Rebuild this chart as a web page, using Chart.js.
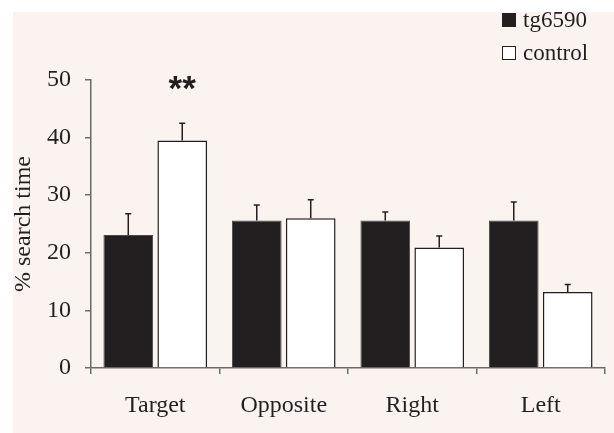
<!DOCTYPE html>
<html>
<head>
<meta charset="utf-8">
<script src="https://cdn.jsdelivr.net/npm/chart.js@4/dist/chart.umd.min.js"></script>
<style>
  html, body { margin: 0; padding: 0; background: #ffffff; }
  #wrap { position: relative; width: 614px; height: 433px; }
</style>
</head>
<body>
<div id="wrap"><canvas id="c" width="614" height="433"></canvas></div>
<script>
// Categories of the probe-trial quadrants
const categories = ['Target', 'Opposite', 'Right', 'Left'];

// Mean % search time per quadrant and its standard error
const tg6590Values = [23.1, 25.6, 25.6, 25.6];
const tg6590Errors = [3.7, 2.7, 1.5, 3.2];
const controlValues = [39.5, 26.0, 20.9, 13.2];
const controlErrors = [3.0, 3.2, 2.0, 1.3];

// Y axis tick values
const yTicks = [0, 10, 20, 30, 40, 50];

// Significance markers: category, dataset index, label
const sigMarks = [{ category: 'Target', dataset: 1, text: '**' }];

const INK = '#231f20';
const AXIS = '#6b6b6b';
const PANEL = '#fbf3f0';
const SERIF = '"Liberation Serif", "Times New Roman", serif';

// Pink panel behind the whole figure
const panelPlugin = {
  id: 'panel',
  beforeDraw(chart) {
    const ctx = chart.ctx;
    ctx.save();
    ctx.fillStyle = PANEL;
    ctx.fillRect(13, 12, chart.width - 13, chart.height - 12);
    ctx.restore();
  }
};

// Upward error bars with small caps
const errorBarPlugin = {
  id: 'errorBars',
  afterDatasetsDraw(chart) {
    const ctx = chart.ctx;
    const y = chart.scales.y;
    ctx.save();
    ctx.strokeStyle = INK;
    ctx.lineWidth = 1.5;
    chart.data.datasets.forEach((ds, di) => {
      const meta = chart.getDatasetMeta(di);
      meta.data.forEach((bar, i) => {
        const top = y.getPixelForValue(ds.data[i] + ds.errors[i]);
        ctx.beginPath();
        ctx.moveTo(bar.x, bar.y);
        ctx.lineTo(bar.x, top);
        ctx.moveTo(bar.x - 3, top);
        ctx.lineTo(bar.x + 3, top);
        ctx.stroke();
      });
    });
    ctx.restore();
  }
};

// Significance asterisks above the marked bar
const sigPlugin = {
  id: 'sig',
  afterDatasetsDraw(chart) {
    const ctx = chart.ctx;
    const y = chart.scales.y;
    ctx.save();
    ctx.fillStyle = INK;
    ctx.font = 'bold 35px "Liberation Sans", Arial, sans-serif';
    ctx.textAlign = 'center';
    ctx.textBaseline = 'alphabetic';
    sigMarks.forEach(m => {
      const i = chart.data.labels.indexOf(m.category);
      const ds = chart.data.datasets[m.dataset];
      const bar = chart.getDatasetMeta(m.dataset).data[i];
      const top = y.getPixelForValue(ds.data[i] + ds.errors[i]);
      ctx.fillText(m.text, bar.x, top - 23);
    });
    ctx.restore();
  }
};

// Vertical legend in the top-right corner
const legendPlugin = {
  id: 'sideLegend',
  afterDraw(chart) {
    const ctx = chart.ctx;
    ctx.save();
    ctx.font = '23px ' + SERIF;
    ctx.textBaseline = 'alphabetic';
    ctx.textAlign = 'left';
    chart.data.datasets.forEach((ds, i) => {
      const boxTop = 13 + i * 33;
      ctx.fillStyle = ds.backgroundColor;
      ctx.fillRect(502.5, boxTop + 0.5, 13, 13);
      ctx.strokeStyle = INK;
      ctx.lineWidth = 1;
      ctx.strokeRect(502.5, boxTop + 0.5, 13, 13);
      ctx.fillStyle = INK;
      ctx.fillText(ds.label, 523, boxTop + 14);
    });
    ctx.restore();
  }
};

new Chart(document.getElementById('c'), {
  type: 'bar',
  data: {
    labels: categories,
    datasets: [
      {
        label: 'tg6590',
        data: tg6590Values,
        errors: tg6590Errors,
        backgroundColor: INK,
        borderColor: '#4a4a4a',
        borderWidth: 1
      },
      {
        label: 'control',
        data: controlValues,
        errors: controlErrors,
        backgroundColor: '#ffffff',
        borderColor: INK,
        borderWidth: 1.5
      }
    ]
  },
  options: {
    responsive: false,
    animation: false,
    devicePixelRatio: 1,
    categoryPercentage: 0.84,
    barPercentage: 0.92,
    layout: { padding: { left: 9.4, top: 80, right: 9, bottom: -3.8 } },
    plugins: {
      legend: { display: false },
      tooltip: { enabled: false }
    },
    scales: {
      x: {
        grid: { drawOnChartArea: false, drawTicks: true, tickLength: 6, color: AXIS, lineWidth: 1.5 },
        border: { color: AXIS, width: 1.5 },
        ticks: { color: INK, font: { family: SERIF, size: 24 }, padding: 17 }
      },
      y: {
        min: 0,
        max: 50,
        afterBuildTicks(scale) { scale.ticks = yTicks.map(v => ({ value: v })); },
        grid: { drawOnChartArea: false, drawTicks: true, tickLength: 6, color: AXIS, lineWidth: 1.5 },
        border: { color: AXIS, width: 1.5 },
        ticks: { color: INK, font: { family: SERIF, size: 24 }, padding: 14 },
        title: {
          display: true,
          text: '% search time',
          color: INK,
          font: { family: SERIF, size: 24 },
          padding: { top: 0, bottom: -5.2 }
        }
      }
    }
  },
  plugins: [panelPlugin, errorBarPlugin, sigPlugin, legendPlugin]
});
</script>
</body>
</html>
